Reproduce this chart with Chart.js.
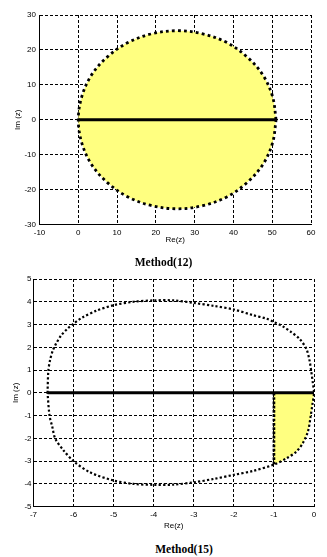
<!DOCTYPE html>
<html><head><meta charset="utf-8">
<script src="https://cdn.jsdelivr.net/npm/chart.js@4/dist/chart.umd.min.js"></script>
<style>
html,body{margin:0;padding:0;background:#fff;width:327px;height:557px;overflow:hidden;position:relative;}
.c{position:absolute;left:0;}
.t{position:absolute;font:bold 11.5px "Liberation Serif", serif;color:#000;transform:translate(-50%,-50%);white-space:nowrap;z-index:5;}
</style></head><body>
<canvas id="c1" class="c" style="top:0px" width="327" height="250"></canvas>
<canvas id="c2" class="c" style="top:265px" width="327" height="275"></canvas>
<div class="t" style="left:163.5px;top:262px">Method(12)</div>
<div class="t" style="left:184px;top:549px">Method(15)</div>
<script>
// ---------- Data: Method(12) ----------
const m12XTicks = [-10, 0, 10, 20, 30, 40, 50, 60];
const m12YTicks = [30, 20, 10, 0, -10, -20, -30];
const m12BoundaryRe = [51, 50.1, 47.6, 43.5, 38.3, 32.1, 25.5, 18.9, 12.8, 7.5, 3.4, 0.9, 0, 0.9, 3.4, 7.5, 12.8, 18.9, 25.5, 32.1, 38.3, 43.5, 47.6, 50.1, 51];
const m12BoundaryIm = [0, 6.6, 12.8, 18, 22.1, 24.6, 25.5, 24.6, 22.1, 18, 12.8, 6.6, 0, -6.6, -12.8, -18, -22.1, -24.6, -25.5, -24.6, -22.1, -18, -12.8, -6.6, 0];
const m12AxisRe = [0, 51];
const m12AxisIm = [0, 0];

// ---------- Data: Method(15) ----------
const m15XTicks = [-7, -6, -5, -4, -3, -2, -1, 0];
const m15YTicks = [5, 4, 3, 2, 1, 0, -1, -2, -3, -4, -5];
const m15BoundaryRe = [-6.65, -6.63, -6.59, -6.52, -6.44, -6.31, -6.15, -6.0, -5.78, -5.44, -5.0, -4.5, -4.0, -3.5, -3.0, -2.5, -2.0, -1.52, -1.19, -1.0, -0.78, -0.57, -0.36, -0.19, -0.11, -0.07, -0.03, 0,
  -0.04, -0.09, -0.15, -0.28, -0.44, -0.69, -1.0, -1.52, -2.0, -2.5, -3.0, -3.5, -4.0, -4.5, -5.0, -5.59, -6.0, -6.25, -6.46, -6.53, -6.6, -6.65];
const m15BoundaryIm = [0, 0.96, 1.41, 1.85, 2.15, 2.52, 2.82, 3.04, 3.31, 3.6, 3.85, 4.0, 4.06, 4.06, 3.95, 3.82, 3.66, 3.41, 3.26, 3.11, 2.92, 2.67, 2.37, 1.93, 1.41, 0.96, 0.45, 0,
  -0.51, -1.1, -1.69, -2.21, -2.58, -2.88, -3.15, -3.43, -3.6, -3.78, -3.93, -4.03, -4.04, -4.0, -3.85, -3.49, -3.0, -2.53, -2.0, -1.5, -1.0, 0];
const m15RegionRe = [-1.0, -0.69, -0.44, -0.28, -0.15, -0.09, -0.04, 0];
const m15RegionIm = [-3.15, -2.88, -2.58, -2.21, -1.69, -1.1, -0.51, 0];
const m15EdgeRe = [-1, -1];
const m15EdgeIm = [0, -3.15];
const m15AxisRe = [-6.65, 0];
const m15AxisIm = [0, 0];

const YELLOW = 'rgb(255,255,128)';
const pts = (xs, ys) => xs.map((x, i) => ({x: x, y: ys[i]}));
const tickFont = {family: '"Liberation Sans", Arial, sans-serif', size: 8};

function axis(opts) {
  const horiz = opts.pos === 'bottom';
  return {
    type: 'linear', position: opts.pos, min: opts.min, max: opts.max,
    afterBuildTicks: s => { s.ticks = opts.ticks.map(v => ({value: v})); },
    afterFit: s => { if (horiz) s.height = opts.size; else s.width = opts.size; },
    grid: {color: '#000', lineWidth: 1, drawTicks: false},
    border: {display: true, color: '#000', width: 1, dash: [3, 2]},
    ticks: {color: '#000', font: tickFont, padding: opts.tickPad, autoSkip: false, maxRotation: 0},
    title: {display: true, text: opts.title, color: '#000', font: tickFont,
      padding: horiz ? {top: 0, bottom: opts.titlePad} : {top: opts.titlePad, bottom: 0}}
  };
}

const common = {
  responsive: false, animation: false,
  plugins: {legend: {display: false}, tooltip: {enabled: false}},
  elements: {point: {radius: 0}}
};

new Chart(document.getElementById('c1'), {
  type: 'scatter',
  data: {datasets: [
    {data: pts(m12AxisRe, m12AxisIm), showLine: true, borderColor: '#000', borderWidth: 3, fill: false, order: 0},
    {data: pts(m12BoundaryRe, m12BoundaryIm), showLine: true, borderColor: '#000', borderWidth: 2.8,
     borderDash: [2.8, 3.2], backgroundColor: YELLOW, fill: 'shape', tension: 0.35, order: 1}
  ]},
  options: Object.assign({}, common, {
    layout: {padding: {top: 15, left: 0, right: 16, bottom: 5.2}},
    scales: {
      x: axis({pos: 'bottom', min: -10, max: 60, ticks: m12XTicks, size: 20.3, tickPad: 3, title: 'Re(z)', titlePad: 0}),
      y: axis({pos: 'left', min: -30, max: 30, ticks: m12YTicks, size: 39.5, tickPad: 3.5, title: 'Im (z)', titlePad: 12.7})
    }
  })
});

new Chart(document.getElementById('c2'), {
  type: 'scatter',
  data: {datasets: [
    {data: pts(m15AxisRe, m15AxisIm), showLine: true, borderColor: '#000', borderWidth: 3, fill: false, order: 0},
    {data: pts(m15BoundaryRe, m15BoundaryIm), showLine: true, borderColor: '#000', borderWidth: 2.2,
     borderDash: [2.2, 2.2], fill: false, tension: 0.3, order: 1},
    {data: pts(m15EdgeRe, m15EdgeIm), showLine: true, borderColor: '#000', borderWidth: 2.7,
     borderDash: [2.7, 1.6], fill: false, order: 2},
    {data: pts(m15RegionRe, m15RegionIm), showLine: true, borderWidth: 0, borderColor: 'rgba(0,0,0,0)',
     backgroundColor: YELLOW, fill: 'origin', tension: 0.3, order: 3}
  ]},
  options: Object.assign({}, common, {
    layout: {padding: {top: 14, left: 0, right: 13, bottom: 9.2}},
    scales: {
      x: axis({pos: 'bottom', min: -7, max: 0, ticks: m15XTicks, size: 24.1, tickPad: 3, title: 'Re(z)', titlePad: 0}),
      y: axis({pos: 'left', min: -5, max: 5, ticks: m15YTicks, size: 33.5, tickPad: 2, title: 'Im (z)', titlePad: 11.2})
    }
  })
});
</script>
</body></html>
